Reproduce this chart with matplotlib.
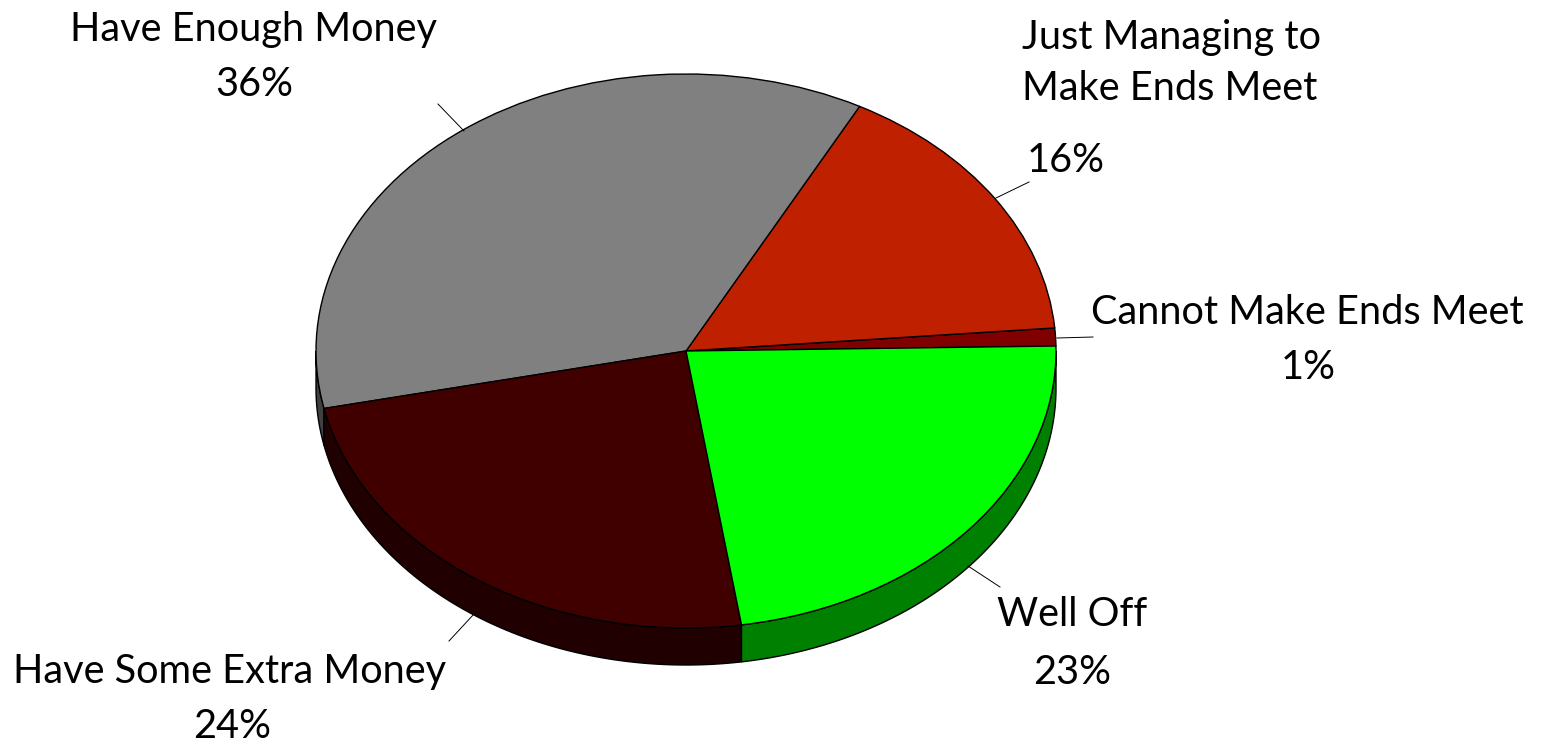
import numpy as np
import matplotlib
matplotlib.use("Agg")
import matplotlib.pyplot as plt

labels = ["Cannot Make Ends Meet", "Just Managing to\nMake Ends Meet", "Have Enough Money", "Have Some Extra Money", "Well Off"]
# shares, the labels show them rounded
values = [1.04, 15.9, 36.1, 24.07, 22.89]
pct_labels = ["1%", "16%", "36%", "24%", "23%"]
colors = ["#800000", "#BF2000", "#808080", "#400000", "#00FF00"]
side_colors = ["#400000", "#601000", "#404040", "#200000", "#008000"]

W, H = 1541, 745
CX, CY = 686, 351
RX, RY = 370, 277
DEPTH = 37
START = 1.03

plt.rcParams['font.family'] = ['Lato', 'DejaVu Sans']

fig = plt.figure(figsize=(W/100, H/100), dpi=100)
ax = fig.add_axes([0, 0, 1, 1])

# pie is drawn on a unit circle, the axis limits squash it to an ellipse
wedges, _ = ax.pie(values, colors=colors, startangle=START, counterclock=True,
                   wedgeprops=dict(edgecolor="black", linewidth=1.0, zorder=3))
ax.set_aspect("auto")
ax.set_xlim(-CX/RX, (W-CX)/RX)
ax.set_ylim(-(H-CY)/RY, CY/RY)

def px(x, y):
    return (x-CX)/RX, (CY-y)/RY

# side wall of the lower half
d = DEPTH/RY
edges = START + np.cumsum([0] + values)*3.6
for i in range(len(values)):
    a0, a1 = edges[i], edges[i+1]
    # only the front part of the rim is visible
    for lo, hi in [(a0, a1), (a0-360, a1-360)]:
        lo2, hi2 = max(lo, -180), min(hi, 0)
        if lo2 >= hi2:
            continue
        t = np.radians(np.linspace(lo2, hi2, 120))
        xs = np.cos(t)
        ys = np.sin(t)
        ax.fill(np.r_[xs, xs[::-1]], np.r_[ys, ys[::-1]-d], facecolor=side_colors[i],
                edgecolor="black", linewidth=1.0, zorder=2)

# leader lines
leaders = [((1093, 337), (1057, 338)), ((1029, 182), (996, 198)), ((438, 104), (464, 131)),
           ((449, 641), (474, 614)), ((1000, 587), (968, 566))]
for p, q in leaders:
    a, b = px(*p), px(*q)
    ax.plot([a[0], b[0]], [a[1], b[1]], color="black", linewidth=0.7, zorder=4)

fs = 28.6
def put(x, y, s, ha="center"):
    tx, ty = px(x, y)
    ax.text(tx, ty, s, fontsize=fs, ha=ha, va="center", color="black", zorder=5)

put(1307, 312, labels[0])
put(1308, 367, pct_labels[0])
put(1022, 37, "Just Managing to", ha="left")
put(1022, 89, "Make Ends Meet", ha="left")
put(1066, 160, pct_labels[1])
put(253, 30, labels[2])
put(254, 85, pct_labels[2])
put(230, 672, labels[3])
put(232, 726, pct_labels[3])
put(1072, 615, labels[4])
put(1072, 672, pct_labels[4])

fig.savefig("out.png", dpi=100)
